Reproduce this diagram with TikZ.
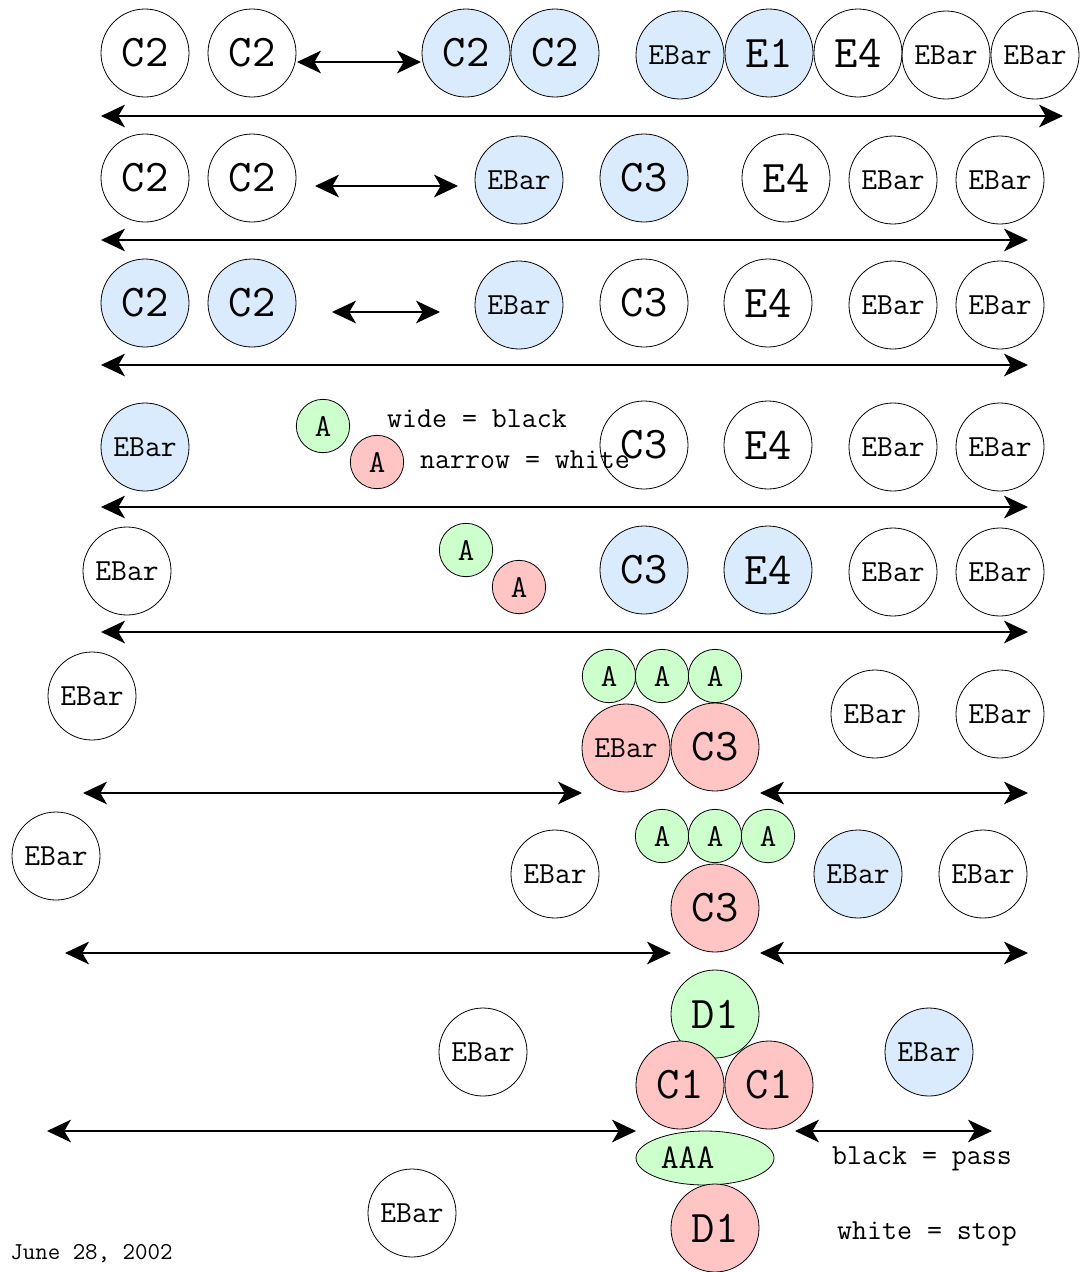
\documentclass[tikz,border=0pt]{standalone}
\usepackage{fontspec}
\usetikzlibrary{arrows.meta,shapes.geometric}
\definecolor{pblue}{RGB}{218,235,253}
\definecolor{pgreen}{RGB}{204,255,204}
\definecolor{pred}{RGB}{255,196,196}
\begin{document}
\begin{tikzpicture}[x=0.75pt,y=-0.75pt,
  big/.style={circle,draw,line width=0.6pt,minimum size=66pt,inner sep=0pt,
    font=\ttfamily\fontsize{34}{34}\selectfont},
  bar/.style={big,font=\ttfamily\fontsize{23}{23}\selectfont},
  atom/.style={circle,draw,line width=0.6pt,minimum size=40pt,inner sep=0pt,
    fill=pgreen,font=\ttfamily\fontsize{24}{24}\selectfont},
  note/.style={anchor=base,inner sep=0pt,font=\ttfamily\fontsize{21.8}{21.8}\selectfont},
  span/.style={{Stealth[length=18pt,width=17pt,inset=5pt]}-{Stealth[length=18pt,width=17pt,inset=5pt]},
    line width=0.8pt}
]
\useasboundingbox (0,0) rectangle (1080,1272);

% ---- row 1
\node[big] (r1a) at (145,53) {C2};
\node[big] (r1b) at (252,53) {C2};
\node[big,fill=pblue] (r1c) at (466,53) {C2};
\node[big,fill=pblue] (r1d) at (555,53) {C2};
\node[bar,fill=pblue] (r1e) at (680,55) {EBar};
\node[big,fill=pblue] (r1f) at (769,53) {E1};
\node[big] (r1g) at (858,53) {E4};
\node[bar] (r1h) at (946,55) {EBar};
\node[bar] (r1i) at (1035,55) {EBar};
\coordinate (g1l) at (297,62); \coordinate (g1r) at (421,62);
\draw[span] (g1l) -- (g1r);
\coordinate (s1l) at (101,116); \coordinate (s1r) at (1063,116);
\draw[span] (s1l) -- (s1r);

% ---- row 2
\node[big] (r2a) at (145,178) {C2};
\node[big] (r2b) at (252,178) {C2};
\node[bar,fill=pblue] (r2c) at (519,180) {EBar};
\node[big,fill=pblue] (r2d) at (644,178) {C3};
\node[big] (r2e) at (786,178) {E4};
\node[bar] (r2f) at (893,180) {EBar};
\node[bar] (r2g) at (1000,180) {EBar};
\coordinate (g2l) at (315,186); \coordinate (g2r) at (458,186);
\draw[span] (g2l) -- (g2r);
\coordinate (s2l) at (101,240); \coordinate (s2r) at (1028,240);
\draw[span] (s2l) -- (s2r);

% ---- row 3
\node[big,fill=pblue] (r3a) at (145,303) {C2};
\node[big,fill=pblue] (r3b) at (252,303) {C2};
\node[bar,fill=pblue] (r3c) at (519,305) {EBar};
\node[big] (r3d) at (644,303) {C3};
\node[big] (r3e) at (768,303) {E4};
\node[bar] (r3f) at (893,305) {EBar};
\node[bar] (r3g) at (1000,305) {EBar};
\coordinate (g3l) at (332,312); \coordinate (g3r) at (440,312);
\draw[span] (g3l) -- (g3r);
\coordinate (s3l) at (101,365); \coordinate (s3r) at (1028,365);
\draw[span] (s3l) -- (s3r);

% ---- row 4
\node[bar,fill=pblue] (r4a) at (145,447) {EBar};
\node[atom] (r4b) at (323,426) {A};
\node[atom,fill=pred] (r4c) at (377,462) {A};
\node[big] (r4d) at (644,445) {C3};
\node[big] (r4e) at (768,445) {E4};
\node[bar] (r4f) at (893,447) {EBar};
\node[bar] (r4g) at (1000,447) {EBar};
\node[note] (wide) at (477,427) {wide = black};
\node[note] (narrow) at (525,468) {narrow = white};
\coordinate (s4l) at (101,507); \coordinate (s4r) at (1028,507);
\draw[span] (s4l) -- (s4r);

% ---- row 5
\node[bar] (r5a) at (127,571) {EBar};
\node[atom] (r5b) at (466,550) {A};
\node[atom,fill=pred] (r5c) at (519,587) {A};
\node[big,fill=pblue] (r5d) at (644,570) {C3};
\node[big,fill=pblue] (r5e) at (768,570) {E4};
\node[bar] (r5f) at (893,572) {EBar};
\node[bar] (r5g) at (1000,572) {EBar};
\coordinate (s5l) at (101,632); \coordinate (s5r) at (1028,632);
\draw[span] (s5l) -- (s5r);

% ---- row 6
\node[bar] (r6a) at (92,696) {EBar};
\node[atom] (r6b) at (609,676) {A};
\node[atom] (r6c) at (662,676) {A};
\node[atom] (r6d) at (715,676) {A};
\node[bar,fill=pred] (r6e) at (626,748) {EBar};
\node[big,fill=pred] (r6f) at (715,747) {C3};
\node[bar] (r6g) at (875,714) {EBar};
\node[bar] (r6h) at (1000,714) {EBar};
\coordinate (s6l) at (83,793); \coordinate (s6m) at (582,793);
\draw[span] (s6l) -- (s6m);
\coordinate (t6l) at (760,793); \coordinate (t6r) at (1028,793);
\draw[span] (t6l) -- (t6r);

% ---- row 7
\node[bar] (r7a) at (56,856) {EBar};
\node[bar] (r7b) at (555,874) {EBar};
\node[atom] (r7c) at (662,836) {A};
\node[atom] (r7d) at (715,836) {A};
\node[atom] (r7e) at (768,836) {A};
\node[big,fill=pred] (r7f) at (715,908) {C3};
\node[bar,fill=pblue] (r7g) at (858,874) {EBar};
\node[bar] (r7h) at (983,874) {EBar};
\coordinate (s7l) at (65,953); \coordinate (s7m) at (671,953);
\draw[span] (s7l) -- (s7m);
\coordinate (t7l) at (760,953); \coordinate (t7r) at (1028,953);
\draw[span] (t7l) -- (t7r);

% ---- row 8
\node[bar] (r8a) at (483,1052) {EBar};
\node[big,fill=pgreen] (r8b) at (715,1014) {D1};
\node[big,fill=pred] (r8c) at (680,1085) {C1};
\node[big,fill=pred] (r8d) at (769,1085) {C1};
\node[bar,fill=pblue] (r8e) at (929,1052) {EBar};
\coordinate (s8l) at (47,1131); \coordinate (s8m) at (636,1131);
\draw[span] (s8l) -- (s8m);
\coordinate (t8l) at (795,1131); \coordinate (t8r) at (992,1131);
\draw[span] (t8l) -- (t8r);
\node[ellipse,draw,line width=0.6pt,fill=pgreen,minimum width=103.5pt,minimum height=40.5pt,
  inner sep=0pt,label={[xshift=-13pt,font=\ttfamily\fontsize{26}{26}\selectfont]center:AAA}] (r8f) at (705,1158) {};
\node[big,fill=pred] (r8g) at (715,1228) {D1};
\node[bar] (r8h) at (412,1213) {EBar};
\node[note] (pass) at (922,1164) {black = pass};
\node[note] (stop) at (927,1239) {white = stop};

% ---- date stamp
\node[anchor=base west,inner sep=0pt,font=\ttfamily\fontsize{18.2}{18.2}\selectfont] (date) at (10,1259) {June 28, 2002};
\end{tikzpicture}
\end{document}
